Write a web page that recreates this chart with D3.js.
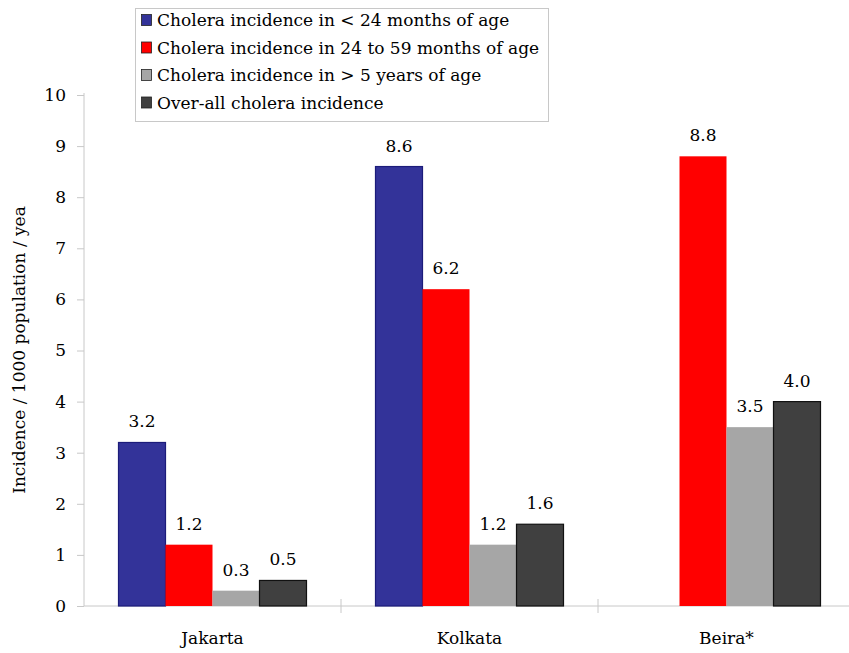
<!DOCTYPE html>
<html>
<head>
<meta charset="utf-8">
<script src="https://cdn.jsdelivr.net/npm/d3@7"></script>
<style>
  html, body { margin: 0; padding: 0; background: #fff; }
  svg { display: block; }
</style>
</head>
<body>
<svg id="chart" width="849" height="653"></svg>
<script>
// ---- data ----
const categories = ["Jakarta", "Kolkata", "Beira*"];
const seriesNames = [
  "Cholera incidence in < 24 months of age",
  "Cholera incidence in 24 to 59 months of age",
  "Cholera incidence in > 5 years of age",
  "Over-all cholera incidence"
];
const under24Months = [3.2, 8.6, null];
const from24to59Months = [1.2, 6.2, 8.8];
const over5Years = [0.3, 1.2, 3.5];
const overall = [0.5, 1.6, 4.0];
const yTicks = [0, 1, 2, 3, 4, 5, 6, 7, 8, 9, 10];
const yTitle = "Incidence / 1000 population / yea";

(function () {
const FONT = "'DejaVu Serif', 'DejaVu Sans', serif";
const seriesValues = [under24Months, from24to59Months, over5Years, overall];
const fills = ["#333399", "#ff0000", "#a6a6a6", "#404040"];
const strokes = ["#1c1c7a", "none", "none", "#111111"];

const svg = d3.select("#chart").style("font-family", FONT);
const mLeft = 84, mRight = 855, mTop = 95, mBottom = 606;

const x0 = d3.scaleBand().domain(categories).range([mLeft, mRight]).paddingInner(0).paddingOuter(0);
const x1 = d3.scaleBand().domain(d3.range(seriesNames.length)).range([0, x0.bandwidth()])
  .paddingInner(0).paddingOuter(0.734);
const y = d3.scaleLinear().domain([0, 10]).range([mBottom, mTop]);

const axisColor = "#c8c8c8";

// y axis
const yAxis = svg.append("g").attr("transform", `translate(${mLeft},0)`)
  .call(d3.axisLeft(y).tickValues(yTicks).tickSize(7).tickPadding(11).tickFormat(d3.format("d")));
yAxis.attr("font-family", FONT).attr("font-size", 17);
yAxis.select(".domain").attr("stroke", axisColor).attr("d", `M0,${mTop - 2}V${mBottom}`);
yAxis.selectAll(".tick line").attr("stroke", axisColor);
yAxis.selectAll(".tick text").attr("fill", "#000");

// x axis
const xAxis = svg.append("g").attr("transform", `translate(0,${mBottom})`);
xAxis.append("line").attr("x1", mLeft).attr("x2", mRight).attr("y1", 0).attr("y2", 0).attr("stroke", axisColor);
const boundaries = categories.slice(1).map(c => x0(c));
xAxis.selectAll("line.sep").data(boundaries).join("line").attr("class", "sep")
  .attr("x1", d => d).attr("x2", d => d).attr("y1", -7).attr("y2", 7).attr("stroke", axisColor);
xAxis.selectAll("text.cat").data(categories).join("text").attr("class", "cat")
  .attr("x", d => x0(d) + x0.bandwidth() / 2).attr("y", 38)
  .attr("font-family", FONT)
  .attr("text-anchor", "middle").attr("font-size", 17).text(d => d);

// bars
const rows = [];
categories.forEach((c, ci) => {
  seriesValues.forEach((vals, si) => {
    if (vals[ci] != null) rows.push({ c, si, v: vals[ci] });
  });
});
const g = svg.append("g");
g.selectAll("rect").data(rows).join("rect")
  .attr("x", d => x0(d.c) + x1(d.si))
  .attr("y", d => y(d.v))
  .attr("width", x1.bandwidth())
  .attr("height", d => y(0) - y(d.v))
  .attr("fill", d => fills[d.si])
  .attr("stroke", d => strokes[d.si])
  .attr("stroke-width", 1.2);
g.selectAll("text").data(rows).join("text")
  .attr("x", d => x0(d.c) + x1(d.si) + x1.bandwidth() / 2)
  .attr("y", d => y(d.v) - 15)
  .attr("font-family", FONT)
  .attr("text-anchor", "middle").attr("font-size", 17)
  .text(d => d3.format(".1f")(d.v));

// y title
svg.append("text")
  .attr("transform", `translate(25,350) rotate(-90)`)
  .attr("font-family", FONT)
  .attr("text-anchor", "middle").attr("font-size", 17)
  .text(yTitle);

// legend
const lg = svg.append("g");
lg.append("rect").attr("x", 135.5).attr("y", 8.5).attr("width", 413).attr("height", 113)
  .attr("fill", "#fff").attr("stroke", "#c8c8c8");
const li = lg.selectAll("g.item").data(seriesNames).join("g").attr("class", "item")
  .attr("transform", (d, i) => `translate(141,${20 + i * 27.5})`);
li.append("rect").attr("x", 0.5).attr("y", -5.5).attr("width", 10).attr("height", 11)
  .attr("fill", (d, i) => fills[i]).attr("stroke", "#222").attr("stroke-width", 0.8);
li.append("text").attr("x", 16).attr("y", 6).attr("font-size", 17)
  .attr("font-family", FONT).text(d => d);
})();
</script>
</body>
</html>
